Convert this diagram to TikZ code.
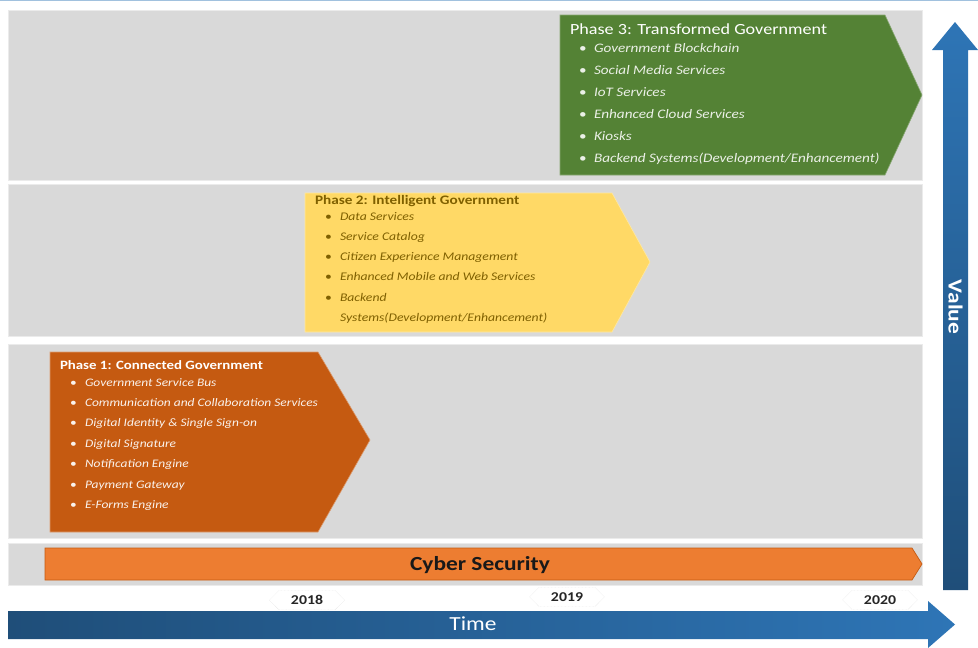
\documentclass[tikz,border=0pt]{standalone}
\usepackage{fontspec}
\setmainfont{Carlito}[FakeStretch=1.17]
\usetikzlibrary{positioning, shapes.symbols}

\definecolor{bandgray}{HTML}{D9D9D9}
\definecolor{phasegreen}{HTML}{548235}
\definecolor{phaseyellow}{HTML}{FFD966}
\definecolor{phaseorange}{HTML}{C55A11}
\definecolor{cyberorange}{HTML}{ED7D31}
\definecolor{olivetext}{HTML}{7F6000}
\definecolor{navy}{HTML}{1F4E79}
\definecolor{midblue}{HTML}{2E75B6}

\newcommand{\bul}[2]{\makebox[#1][l]{\textbullet}\textit{#2}}

\begin{document}
\begin{tikzpicture}[x=1pt, y=-1pt,
		every node/.style={inner sep=0pt, outer sep=0pt},
		band/.style={fill=bandgray, draw=white!92!black, line width=0.6pt},
		ttl/.style={anchor=base west, font=\fontsize{13}{15}\selectfont\bfseries},
		itm/.style={anchor=base west, font=\fontsize{12}{14}\selectfont},
		yr/.style={font=\fontsize{13.5}{15}\selectfont\bfseries, text=black!85,
			draw=black!12, densely dotted, signal, signal to=west and east,
			inner xsep=12pt, inner ysep=5pt}
		]
		\useasboundingbox (0,0) rectangle (978,648);
		\fill[white] (0,0) rectangle (978,648);
		\draw[midblue!45, line width=1pt] (0,0.5) -- (978,0.5);
		
		% Bands
		\draw[band] (8,10) rectangle (922,180);
		\draw[band] (8,184) rectangle (922,336);
		\draw[band] (8,344) rectangle (922,538);
		\draw[band] (8,543) rectangle (922,585);
		
		% Phase 3
		\fill[phasegreen, draw=phasegreen!70!white, line width=0.6pt]
			(560,15) -- (885,15) -- (922,95) -- (885,175) -- (560,175) -- cycle;
		\node[ttl, font=\fontsize{15.5}{17}\selectfont, text=white] (t3) at (570,34) {Phase 3: Transformed Government};
		\foreach \t [count=\i] in {Government Blockchain, Social Media Services, IoT Services,
				Enhanced Cloud Services, Kiosks, Backend Systems(Development/Enhancement)}
			\node[itm, font=\fontsize{13}{15}\selectfont, text=white!88!phasegreen] (p3i\i) at (579,52+22*\i-22) {\bul{15pt}{\t}};
		
		% Phase 2
		\fill[phaseyellow, draw=phaseyellow!60!white, line width=0.6pt]
			(305,193) -- (612,193) -- (650,262) -- (612,332) -- (305,332) -- cycle;
		\node[ttl, text=olivetext] (t2) at (315,204.5) {Phase 2: Intelligent Government};
		\foreach \t [count=\i] in {Data Services, Service Catalog, Citizen Experience Management,
				Enhanced Mobile and Web Services, Backend}
			\node[itm, font=\fontsize{11.7}{14}\selectfont, text=olivetext] (p2i\i) at (325,220+20.3*\i-20.3) {\bul{15pt}{\t}};
		\node[itm, font=\fontsize{11.7}{14}\selectfont, text=olivetext] (p2i6) at (340,321.5) {\textit{Systems(Development/Enhancement)}};
		
		% Phase 1
		\fill[phaseorange, draw=phaseorange!60!white, line width=0.6pt]
			(50,352) -- (318,352) -- (370,440) -- (318,532) -- (50,532) -- cycle;
		\node[ttl, font=\fontsize{12.7}{15}\selectfont\bfseries, text=white] (t1) at (60,369.5) {Phase 1: Connected Government};
		\foreach \t [count=\i] in {Government Service Bus, Communication and Collaboration Services,
				Digital Identity \& Single Sign-on, Digital Signature, Notification Engine,
				Payment Gateway, E-Forms Engine}
			\node[itm, font=\fontsize{11.5}{13}\selectfont, text=white!92!phaseorange] (p1i\i) at (70,386+20.4*\i-20.4) {\bul{15pt}{\t}};
		
		% Cyber Security
		\fill[cyberorange, draw=phaseorange, line width=0.7pt]
			(45,548) -- (912,548) -- (922,564) -- (912,580) -- (45,580) -- cycle;
		\node[font=\fontsize{20}{22}\selectfont\bfseries, text=black!90] (cyber) at (480,565) {Cyber Security};
		
		% Years
		\node[yr] (y2018) at (307,600) {2018};
		\node[yr] (y2019) at (567,597) {2019};
		\node[yr] (y2020) at (880,600) {2020};
		
		% Time axis
		\shade[left color=navy, right color=midblue]
			(8,611) -- (928,611) -- (928,601) -- (955,624.5) -- (928,648) -- (928,639) -- (8,639) -- cycle;
		\node[font=\fontsize{20}{22}\selectfont, text=white] (time) at (473,624) {Time};
		
		% Value axis
		\shade[top color=midblue, bottom color=navy]
			(943,590) -- (943,50) -- (932,50) -- (955,22) -- (978,50) -- (968,50) -- (968,590) -- cycle;
		\node[rotate=-90, font=\fontsize{20}{22}\selectfont\bfseries, text=white] (value) at (955.5,307) {Value};
		
	\end{tikzpicture}
\end{document}
